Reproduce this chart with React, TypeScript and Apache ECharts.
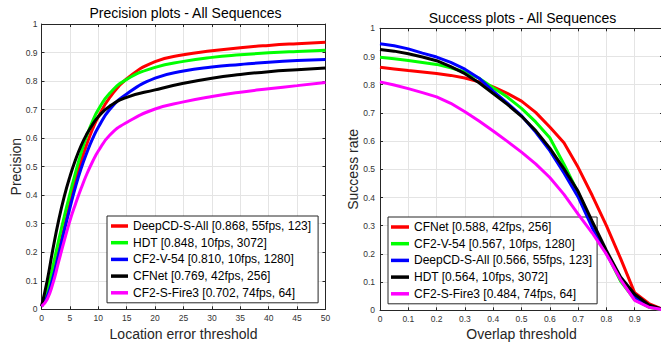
import React, { useEffect, useRef } from "react";
import * as echarts from "echarts";

// ---------- Precision plot data ----------
const precThresholds = [0, 1, 2, 3, 4, 5, 6, 7, 8, 9, 10, 12, 15, 20, 25, 30, 35, 40, 45, 50];
const precNames = [
  "DeepCD-S-All [0.868, 55fps, 123]",
  "HDT [0.848, 10fps, 3072]",
  "CF2-V-54 [0.810, 10fps, 1280]",
  "CFNet [0.769, 42fps, 256]",
  "CF2-S-Fire3 [0.702, 74fps, 64]",
];
const precDeepCD = [0.01, 0.045, 0.115, 0.2, 0.285, 0.37, 0.45, 0.52, 0.58, 0.632, 0.675, 0.742, 0.808, 0.868, 0.892, 0.906, 0.917, 0.925, 0.931, 0.936];
const precHDT = [0.01, 0.065, 0.15, 0.24, 0.325, 0.405, 0.48, 0.55, 0.61, 0.66, 0.7, 0.757, 0.806, 0.848, 0.869, 0.883, 0.892, 0.899, 0.904, 0.908];
const precCF2V54 = [0.01, 0.045, 0.11, 0.19, 0.275, 0.355, 0.43, 0.495, 0.55, 0.598, 0.638, 0.7, 0.755, 0.81, 0.835, 0.849, 0.858, 0.866, 0.872, 0.876];
const precCFNet = [0.01, 0.1, 0.21, 0.31, 0.395, 0.465, 0.525, 0.575, 0.615, 0.648, 0.675, 0.712, 0.743, 0.769, 0.792, 0.81, 0.823, 0.833, 0.84, 0.846];
const precFire3 = [0.01, 0.035, 0.09, 0.165, 0.24, 0.31, 0.37, 0.425, 0.475, 0.518, 0.555, 0.61, 0.655, 0.702, 0.727, 0.746, 0.761, 0.773, 0.784, 0.795];

// ---------- Success plot data ----------
const overlapThresholds = [0, 0.05, 0.1, 0.15, 0.2, 0.25, 0.3, 0.35, 0.4, 0.45, 0.5, 0.55, 0.6, 0.65, 0.7, 0.75, 0.8, 0.85, 0.9, 0.95, 1];
const succNames = [
  "CFNet [0.588, 42fps, 256]",
  "CF2-V-54 [0.567, 10fps, 1280]",
  "DeepCD-S-All [0.566, 55fps, 123]",
  "HDT [0.564, 10fps, 3072]",
  "CF2-S-Fire3 [0.484, 74fps, 64]",
];
const succCFNet = [0.862, 0.856, 0.85, 0.845, 0.84, 0.833, 0.824, 0.81, 0.792, 0.769, 0.742, 0.702, 0.65, 0.594, 0.507, 0.407, 0.3, 0.184, 0.062, 0.024, 0.003];
const succCF2V54 = [0.897, 0.892, 0.886, 0.879, 0.872, 0.86, 0.845, 0.823, 0.789, 0.756, 0.716, 0.668, 0.612, 0.518, 0.417, 0.307, 0.203, 0.104, 0.038, 0.011, 0.002];
const succDeepCD = [0.945, 0.938, 0.927, 0.912, 0.898, 0.879, 0.855, 0.823, 0.777, 0.735, 0.69, 0.632, 0.566, 0.487, 0.402, 0.293, 0.201, 0.113, 0.047, 0.014, 0.002];
const succHDT = [0.925, 0.919, 0.91, 0.898, 0.885, 0.864, 0.839, 0.807, 0.769, 0.73, 0.688, 0.637, 0.575, 0.502, 0.422, 0.315, 0.212, 0.118, 0.057, 0.019, 0.003];
const succFire3 = [0.81, 0.799, 0.786, 0.772, 0.757, 0.734, 0.704, 0.671, 0.636, 0.599, 0.561, 0.519, 0.471, 0.411, 0.341, 0.274, 0.199, 0.109, 0.035, 0.011, 0.002];

const colors = ["#ff0000", "#00ff00", "#0000ff", "#000000", "#ff00ff"];
const FONT = "'Liberation Sans', Arial, Helvetica, sans-serif";
const AXIS_COLOR = "#262626";
const GRID_COLOR = "#e4e4e4";

function pairs(xs: number[], ys: number[]) {
  return xs.map((x, i) => [x, ys[i]]);
}

function axisBase(extra: any) {
  return {
    type: "value",
    nameMoveOverlap: false,
    axisLine: { show: true, onZero: false, lineStyle: { color: AXIS_COLOR, width: 1 } },
    axisTick: { show: true, inside: true, length: 3, lineStyle: { color: AXIS_COLOR } },
    axisLabel: { show: true, fontSize: 8.5, color: "#333", fontFamily: FONT, margin: 4 },
    splitLine: { show: true, lineStyle: { color: GRID_COLOR, width: 1 } },
    ...extra,
  };
}

function mirrorAxis(extra: any) {
  return {
    type: "value",
    axisLine: { show: true, onZero: false, lineStyle: { color: AXIS_COLOR, width: 1 } },
    axisTick: { show: true, inside: true, length: 3, lineStyle: { color: AXIS_COLOR } },
    axisLabel: { show: false },
    splitLine: { show: false },
    ...extra,
  };
}

export default function App() {
  const ref = useRef<HTMLDivElement>(null);

  useEffect(() => {
    if (!ref.current) return;
    const chart = echarts.init(ref.current, undefined, { renderer: "svg" });

    const precData = [precDeepCD, precHDT, precCF2V54, precCFNet, precFire3];
    const succData = [succCFNet, succCF2V54, succDeepCD, succHDT, succFire3];

    const legendCommon = {
      orient: "vertical",
      icon: "rect",
      itemWidth: 17,
      itemHeight: 3.5,
      itemGap: 2.7,
      itemTextGap: 3,
      borderColor: AXIS_COLOR,
      borderWidth: 1,
      backgroundColor: "#ffffff",
      borderRadius: 0,
      selectedMode: false,
      textStyle: { fontSize: 12, color: "#000", fontFamily: FONT, lineHeight: 14 },
    };

    const nameStyle = { fontSize: 14, color: "#262626", fontFamily: FONT, lineHeight: 14 };

    const option: any = {
      animation: false,
      textStyle: { fontFamily: FONT },
      title: [
        {
          text: "Precision plots - All Sequences",
          left: 185.5,
          top: 6,
          textAlign: "center",
          padding: 0,
          textStyle: { fontSize: 14, fontWeight: "normal", color: "#000", fontFamily: FONT },
        },
        {
          text: "Success plots - All Sequences",
          left: 522.5,
          top: 11,
          textAlign: "center",
          padding: 0,
          textStyle: { fontSize: 14, fontWeight: "normal", color: "#000", fontFamily: FONT },
        },
      ],
      legend: [
        {
          ...legendCommon,
          data: precNames,
          left: 107,
          top: 216,
          padding: [3, 7, 3, 4],
        },
        {
          ...legendCommon,
          data: succNames,
          left: 388,
          top: 217,
          padding: [3, 5, 3, 3],
          itemWidth: 18,
          itemTextGap: 2,
        },
      ],
      grid: [
        { left: 41.5, top: 24, width: 284, height: 285.3, containLabel: false, outerBoundsMode: "none" },
        { left: 380, top: 28.3, width: 283, height: 282, containLabel: false, outerBoundsMode: "none" },
      ],
      xAxis: [
        axisBase({
          gridIndex: 0,
          min: 0,
          max: 50,
          interval: 5,
          position: "bottom",
          name: "Location error threshold",
          nameLocation: "middle",
          nameGap: 18,
          nameTextStyle: nameStyle,
        }),
        mirrorAxis({ gridIndex: 0, min: 0, max: 50, interval: 5, position: "top" }),
        axisBase({
          gridIndex: 1,
          min: 0,
          max: 1,
          interval: 0.1,
          position: "bottom",
          name: "Overlap threshold",
          nameLocation: "middle",
          nameGap: 17,
          nameTextStyle: nameStyle,
          axisLabel: { show: true, fontSize: 8.5, color: "#333", fontFamily: FONT, margin: 4, showMaxLabel: false },
        }),
        mirrorAxis({ gridIndex: 1, min: 0, max: 1, interval: 0.1, position: "top" }),
      ],
      yAxis: [
        axisBase({
          gridIndex: 0,
          min: 0,
          max: 1,
          interval: 0.1,
          position: "left",
          name: "Precision",
          nameLocation: "middle",
          nameGap: 19,
          nameTextStyle: nameStyle,
          axisLabel: { show: true, fontSize: 8.5, color: "#333", fontFamily: FONT, margin: 4 },
        }),
        mirrorAxis({ gridIndex: 0, min: 0, max: 1, interval: 0.1, position: "right" }),
        axisBase({
          gridIndex: 1,
          min: 0,
          max: 1,
          interval: 0.1,
          position: "left",
          name: "Success rate",
          nameLocation: "middle",
          nameGap: 20,
          nameTextStyle: nameStyle,
          axisLabel: { show: true, fontSize: 8.5, color: "#333", fontFamily: FONT, margin: 5 },
        }),
        mirrorAxis({ gridIndex: 1, min: 0, max: 1, interval: 0.1, position: "right" }),
      ],
      series: [
        ...precNames.map((name, i) => ({
          name,
          type: "line",
          xAxisIndex: 0,
          yAxisIndex: 0,
          data: pairs(precThresholds, precData[i]),
          showSymbol: false,
          smooth: 0.5,
          color: colors[i],
          lineStyle: { width: 3, color: colors[i] },
          z: 2 + i,
        })),
        ...succNames.map((name, i) => ({
          name,
          type: "line",
          xAxisIndex: 2,
          yAxisIndex: 2,
          data: pairs(overlapThresholds, succData[i]),
          showSymbol: false,
          smooth: false,
          color: colors[i],
          lineStyle: { width: 3, color: colors[i] },
          z: 2 + i,
        })),
      ],
    };

    chart.setOption(option);
    return () => chart.dispose();
  }, []);

  return (
    <div
      ref={ref}
      style={{ position: "fixed", left: 0, top: 0, width: 661, height: 345, background: "#fff" }}
    />
  );
}
